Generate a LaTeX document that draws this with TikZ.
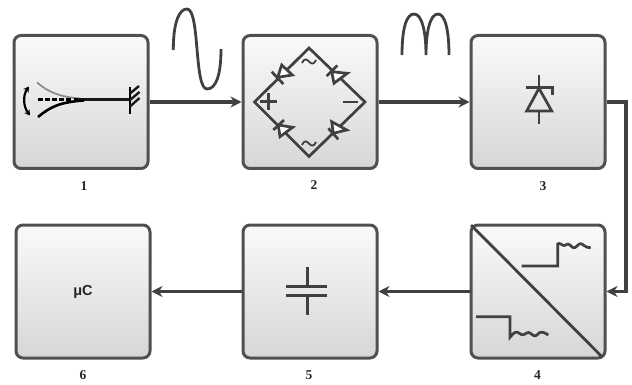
\documentclass[tikz,border=0pt]{standalone}
\usepackage{fontspec}
\setmainfont{Liberation Serif}
\newfontfamily\labsans{Liberation Sans}
\usetikzlibrary{arrows.meta}
\definecolor{frame}{HTML}{505050}
\definecolor{ink}{HTML}{404040}
\tikzset{
  blockbox/.style={draw=frame,line width=3pt,rounded corners=7pt,minimum width=134pt,minimum height=133pt,inner sep=0pt,top color=white!98!black,bottom color=white!84!black},
  numlabel/.style={font=\bfseries\fontsize{13.5}{15}\selectfont,text=black!85,inner sep=0pt},
  link/.style={draw=ink,line width=3.2pt,-{Stealth[length=11pt,width=11pt]}},
  iconline/.style={draw=ink,line width=2.7pt},
  waveline/.style={draw=ink,line width=2.8pt},
  blackline/.style={draw=black!90,line width=2.4pt}
}
\begin{document}
\begin{tikzpicture}[x=1pt,y=-1pt]
\useasboundingbox (0,0) rectangle (632,385);
% blocks
\node[blockbox] (b1) at (81,102) {};
\node[blockbox] (b2) at (310,102) {};
\node[blockbox] (b3) at (538,102) {};
\node[blockbox] (b4) at (538,291.5) {};
\node[blockbox] (b5) at (310,291.5) {};
\node[blockbox,font=\labsans\bfseries\fontsize{14.5}{16}\selectfont,text=black!85] (b6) at (83,291.5) {μC};
% numbers
\node[numlabel] (n1) at (84,186) {1};
\node[numlabel] (n2) at (314,185) {2};
\node[numlabel] (n3) at (543,186) {3};
\node[numlabel] (n4) at (537.5,375) {4};
\node[numlabel] (n5) at (309,375) {5};
\node[numlabel] (n6) at (83,375) {6};
% connectors
\coordinate (bend1) at (626,102);
\coordinate (bend2) at (626,291.5);
\draw[link] (b1.east) -- (b2.west);
\draw[link] (b2.east) -- (b3.west);
\draw[link] (b3.east) -- (bend1) -- (bend2) -- (b4.east);
\draw[link] (b4.west) -- (b5.east);
\draw[link] (b5.west) -- (b6.east);
% waves
\draw[waveline] (173.3,50) .. controls (173.3,20) and (180,9) .. (187,9)
  .. controls (200,9) and (194,89) .. (207,89)
  .. controls (216,89) and (221,75) .. (221,49);
\draw[waveline] (402,55) .. controls (402,30) and (406,14) .. (414,14)
  .. controls (422,14) and (426,32) .. (426,55)
  .. controls (426,32) and (430,14) .. (438,14)
  .. controls (445,14) and (449,30) .. (449,55);
% icon 1: cantilever
\draw[draw=black!45,line width=1.8pt] (37,82.5) .. controls (48,92) and (60,97) .. (80,98.5);
\draw[draw=black,line width=2.2pt,dash pattern=on 4.5pt off 2.6pt] (38,99.5) -- (80,99.5);
\draw[blackline] (78,99.5) -- (130,99.5);
\draw[draw=black,line width=2.6pt] (38,117) .. controls (50,107) and (60,102) .. (84,100.5);
\draw[draw=black,line width=2.8pt] (130,87) -- (130,114);
\draw[blackline] (130,93.5) -- (139,86);
\draw[blackline] (130,100) -- (139.5,92);
\draw[blackline] (130,106.5) -- (139.5,98);
\draw[draw=black,line width=2.2pt,{Stealth[length=5.5pt,width=6.5pt]}-{Stealth[length=5.5pt,width=6.5pt]}] (29,86.5) .. controls (23,95) and (23,106) .. (30,115.5);
% icon 2: bridge
\draw[iconline] (254.5,102) -- (309,48) -- (365,102) -- (309,156.5) -- cycle;
\foreach \ax/\ay/\bx/\by/\cx/\cy/\dx/\dy/\ex/\ey in {
 277.7/77.3/281.7/65/292.3/75/271.7/71.7/283.3/84,
 331.7/71.7/334/83.3/347.3/73.3/326.7/76/337.3/65.5,
 278.3/125/280/136.7/292.7/127.3/273.3/130/284/120,
 333.3/133.3/331.7/121.7/346.7/130/328.3/128.3/338.3/139.3}{
  \draw[iconline,fill=white,line join=miter] (\ax,\ay) -- (\bx,\by) -- (\cx,\cy) -- cycle;
  \draw[iconline] (\dx,\dy) -- (\ex,\ey);
}
\draw[iconline] (260,101.7) -- (276.5,101.7) (268.3,93.5) -- (268.3,110);
\draw[iconline] (342.7,102) -- (358,102);
\draw[draw=ink,line width=1.8pt] (302,63) .. controls (304,58) and (307,59) .. (309,61.5) .. controls (311,64) and (314,65) .. (316,60);
\draw[draw=ink,line width=1.8pt] (302,145) .. controls (304,140) and (307,141) .. (309,143.5) .. controls (311,146) and (314,147) .. (316,142);
% icon 3: thyristor
\draw[iconline,line join=miter] (539,88.3) -- (526.7,111) -- (551.7,111) -- cycle;
\draw[iconline] (539,75) -- (539,88.3);
\draw[iconline] (539,111) -- (539,124);
\draw[iconline] (526,87.7) -- (552.7,87.7) -- (552.7,95);
% icon 4: converter
\draw[draw=ink,line width=2.8pt] (b4.north west) ++(1.5,1.5) -- (601.7,356.5);
\draw[iconline,line join=miter] (521.7,266) -- (557.7,266) -- (557.7,244)
  .. controls (560,242) and (562,246) .. (564.5,245.5)
  .. controls (567,245) and (567,243) .. (570,245)
  .. controls (573,248) and (574,249) .. (577,246)
  .. controls (580,243) and (581,243) .. (584,245.5)
  .. controls (586,248) and (588,247) .. (590.7,247.7);
\draw[iconline,line join=miter] (476,316.7) -- (510,316.7) -- (510,337.3)
  .. controls (513,334) and (515,331) .. (518,332.5)
  .. controls (521,334) and (522,336) .. (525,334)
  .. controls (528,332) and (529,332) .. (532,334.5)
  .. controls (535,337) and (536,336) .. (539,333)
  .. controls (542,331) and (545,333) .. (548.3,335);
% icon 5: capacitor
\draw[iconline,line width=3pt] (286,286) -- (326.7,286);
\draw[iconline,line width=3pt] (286,295) -- (326.7,295);
\draw[iconline,line width=3pt] (307,267.3) -- (307,286);
\draw[iconline,line width=3pt] (307,295) -- (307,315);
\end{tikzpicture}
\end{document}
